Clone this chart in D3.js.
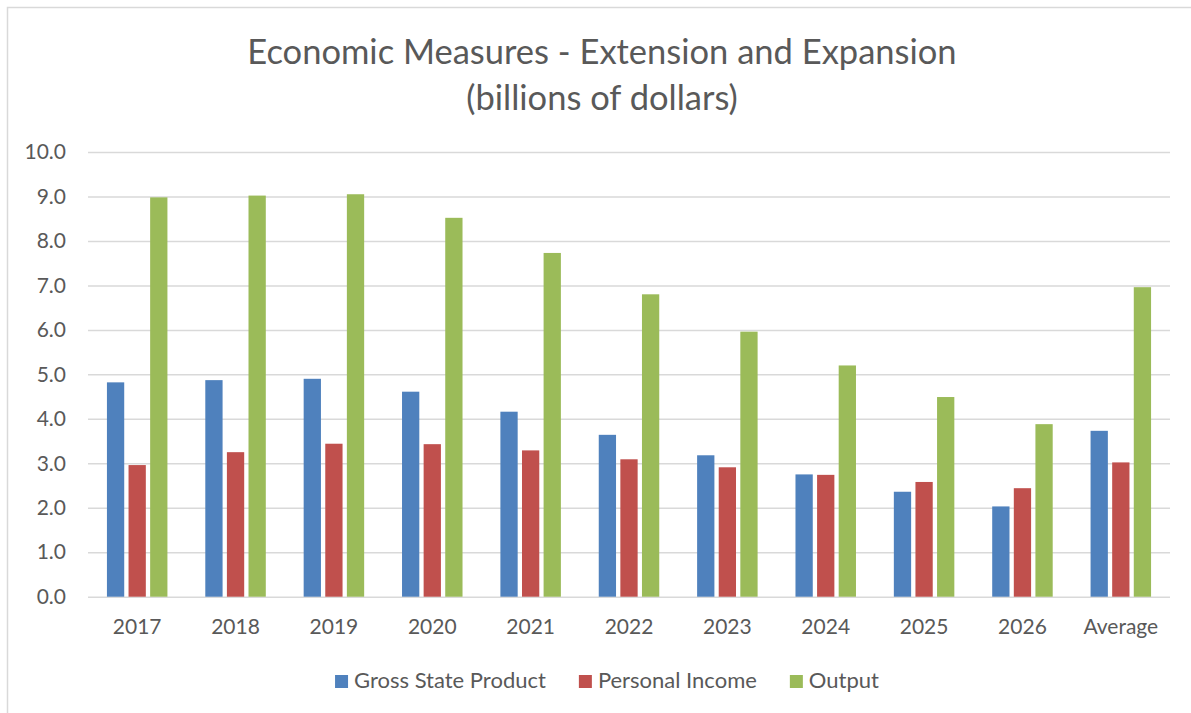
<!DOCTYPE html>
<html>
<head>
<meta charset="utf-8">
<script src="https://cdn.jsdelivr.net/npm/d3@7"></script>
<style>
  body { margin: 0; background: #fff; }
  text { font-family: Lato, "Open Sans", sans-serif; fill: #595959; }
</style>
</head>
<body>
<svg id="chart" width="1191" height="713"></svg>
<script>
var categories = ["2017", "2018", "2019", "2020", "2021", "2022", "2023", "2024", "2025", "2026", "Average"];
var seriesNames = ["Gross State Product", "Personal Income", "Output"];
var grossStateProduct = [4.82, 4.87, 4.90, 4.61, 4.16, 3.64, 3.18, 2.75, 2.36, 2.03, 3.73];
var personalIncome = [2.96, 3.25, 3.44, 3.43, 3.29, 3.09, 2.91, 2.74, 2.58, 2.44, 3.02];
var output = [8.98, 9.02, 9.05, 8.52, 7.73, 6.80, 5.96, 5.20, 4.49, 3.88, 6.96];
var yTicks = [0, 1, 2, 3, 4, 5, 6, 7, 8, 9, 10];
var titleLines = ["Economic Measures - Extension and Expansion", "(billions of dollars)"];

var colors = ["#4F81BD", "#C0504D", "#9BBB59"];
var seriesValues = [grossStateProduct, personalIncome, output];

drawChart();

function drawChart(){
	var svg = d3.select("#chart");

	// chart area border (runs off the right and bottom edges)
	svg.append("rect")
		.attr("x", 7.5).attr("y", 7.5)
		.attr("width", 1200).attr("height", 720)
		.attr("fill", "none")
		.attr("stroke", "#D9D9D9")
		.attr("stroke-width", 1.5);

	var plotLeft = 88, plotRight = 1170, plotTop = 152, plotBottom = 596.7;

	var x0 = d3.scaleBand()
		.domain(categories)
		.range([plotLeft, plotRight])
		.paddingInner(0.385)
		.paddingOuter(0.1925);

	var x1 = d3.scaleBand()
		.domain(seriesNames)
		.range([0, x0.bandwidth()])
		.paddingInner(0.2);

	var y = d3.scaleLinear()
		.domain([0, 10])
		.range([plotBottom, plotTop]);

	// gridlines + y labels
	var yAxis = svg.append("g")
		.attr("transform", "translate(" + plotLeft + ",0)")
		.call(d3.axisLeft(y).tickValues(yTicks).tickFormat(d3.format(".1f"))
			.tickSize(-(plotRight - plotLeft)).tickPadding(22));
	yAxis.select(".domain").remove();
	yAxis.selectAll("line").attr("stroke", "#D9D9D9").attr("stroke-width", 1.5);
	yAxis.selectAll("text").attr("font-size", 21).style("fill", "#595959")
		.attr("font-family", "Lato, 'Open Sans', sans-serif");

	// bars
	var groups = svg.append("g").selectAll("g")
		.data(categories)
		.join("g")
		.attr("transform", function(d){ return "translate(" + x0(d) + ",0)"; });

	groups.selectAll("rect")
		.data(function(d, i){
			return seriesNames.map(function(s, j){ return {series: s, value: seriesValues[j][i], color: colors[j]}; });
		})
		.join("rect")
		.attr("x", function(d){ return x1(d.series); })
		.attr("width", x1.bandwidth())
		.attr("y", function(d){ return y(d.value); })
		.attr("height", function(d){ return y(0) - y(d.value); })
		.attr("fill", function(d){ return d.color; });

	// x labels
	var xAxis = svg.append("g")
		.attr("transform", "translate(0," + plotBottom + ")")
		.call(d3.axisBottom(x0).tickSize(0).tickPadding(22));
	xAxis.select(".domain").remove();
	xAxis.selectAll("text").attr("font-size", 21).style("fill", "#595959")
		.attr("font-family", "Lato, 'Open Sans', sans-serif");

	// title
	svg.append("g").selectAll("text")
		.data(titleLines)
		.join("text")
		.attr("x", 602)
		.attr("y", function(d, i){ return 64 + i * 46; })
		.attr("text-anchor", "middle")
		.attr("font-size", 34.5)
		.text(function(d){ return d; });

	// legend
	var legend = svg.append("g");
	var items = legend.selectAll("g")
		.data(seriesNames)
		.join("g");
	items.append("rect")
		.attr("width", 13).attr("height", 13)
		.attr("y", -13)
		.attr("fill", function(d, i){ return colors[i]; });
	items.append("text")
		.attr("x", 19)
		.attr("font-size", 22)
		.text(function(d){ return d; });

	var pos = 0;
	items.each(function(){
		var g = d3.select(this);
		g.attr("transform", "translate(" + pos + ",0)");
		pos += 19 + g.select("text").node().getComputedTextLength() + 33;
	});
	var legendWidth = pos - 33;
	legend.attr("transform", "translate(" + (607 - legendWidth / 2) + ",688)");
}
</script>
</body>
</html>
